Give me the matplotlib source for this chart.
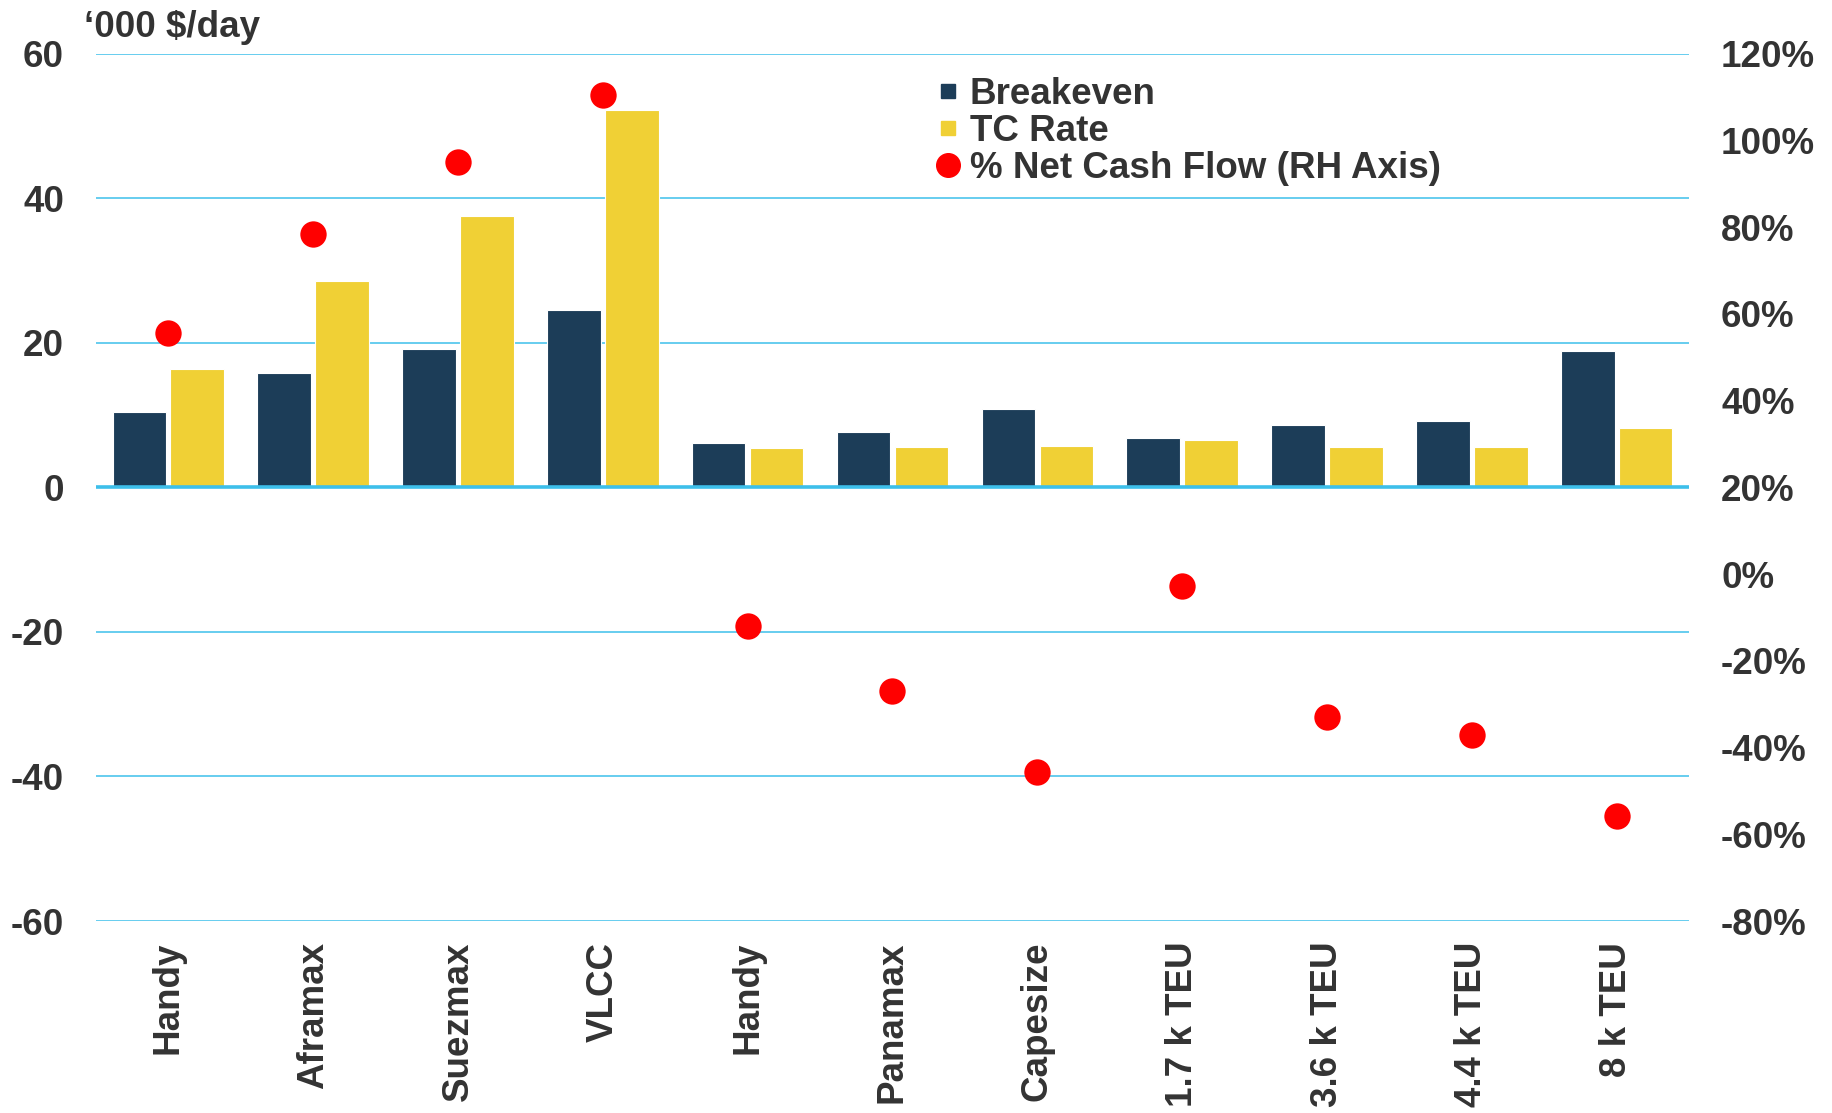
import matplotlib
matplotlib.use("Agg")
import matplotlib.pyplot as plt
from matplotlib.lines import Line2D
from matplotlib.ticker import FuncFormatter
import numpy as np

plt.rcParams['font.family'] = ['Liberation Sans', 'DejaVu Sans']
plt.rcParams['font.weight'] = 'bold'
plt.rcParams['axes.unicode_minus'] = False

TEXT = '#333333'
NAVY = '#1C3D58'
YELLOW = '#F0D035'
RED = '#FF0000'
GRID = '#66CDEF'

categories = ["Handy", "Aframax", "Suezmax", "VLCC", "Handy", "Panamax",
              "Capesize", "1.7 k TEU", "3.6 k TEU", "4.4 k TEU", "8 k TEU"]
breakeven = [10.4, 15.8, 19.1, 24.6, 6.2, 7.7, 10.8, 6.8, 8.6, 9.2, 18.9]
tc_rate = [16.4, 28.5, 37.6, 52.2, 5.4, 5.6, 5.7, 6.5, 5.6, 5.6, 8.2]
net_cash_flow = [55.5, 78.5, 95, 110.5, -12, -27, -45.7, -2.8, -33, -37, -55.8]

left_ticks = [-60, -40, -20, 0, 20, 40, 60]
right_ticks = [-80, -60, -40, -20, 0, 20, 40, 60, 80, 100, 120]

FS = 26.5

fig = plt.figure(figsize=(18.33, 11.13), dpi=100)
ax = fig.add_axes([0.0523, 0.1725, 0.8692, 0.7792])
ax2 = ax.twinx()

x = np.arange(len(categories))
w = 0.37
ax.bar(x - 0.2, breakeven, width=w, color=NAVY, edgecolor='white', linewidth=0.8, zorder=3)
ax.bar(x + 0.2, tc_rate, width=w, color=YELLOW, edgecolor='white', linewidth=0.8, zorder=3)

ax.set_xlim(-0.5, len(categories) - 0.5)
ax.set_ylim(-60, 60)
ax.set_yticks(left_ticks)
ax.yaxis.grid(True, color=GRID, linewidth=1.4, zorder=0)
ax.set_axisbelow(True)
ax.axhline(0, color='#3DBFEA', linewidth=2.6, zorder=4)

ax.set_xticks(x)
ax.set_xticklabels(categories, rotation=90, va='top', ha='center')
ax.tick_params(axis='x', length=0, pad=15, labelsize=FS, labelcolor=TEXT)
ax.tick_params(axis='y', length=0, pad=23, labelsize=FS, labelcolor=TEXT)

ax2.scatter(x, net_cash_flow, s=360, color=RED, zorder=5, linewidths=0)
ax2.set_ylim(-80, 120)
ax2.set_yticks(right_ticks)
ax2.yaxis.set_major_formatter(FuncFormatter(lambda v, p: f"{v:.0f}%"))
ax2.tick_params(axis='y', length=0, pad=23, labelsize=FS, labelcolor=TEXT)

for a in (ax, ax2):
    for s in a.spines.values():
        s.set_visible(False)

fig.text(0.0458, 0.975, "\u2018000 $/day", fontsize=FS, color=TEXT,
         ha='left', va='center', fontweight='bold')

handles = [
    Line2D([], [], linestyle='none', marker='s', markersize=10, color=NAVY),
    Line2D([], [], linestyle='none', marker='s', markersize=10, color=YELLOW),
    Line2D([], [], linestyle='none', marker='o', markersize=17, color=RED),
]
labels = ["Breakeven", "TC Rate", "% Net Cash Flow (RH Axis)"]
leg = fig.legend(handles, labels, loc='upper left', bbox_to_anchor=(0.511, 0.931),
                 frameon=False, fontsize=FS, handlelength=0.6, handletextpad=0.3,
                 labelspacing=0.06, borderpad=0, borderaxespad=0)
for t in leg.get_texts():
    t.set_color(TEXT)

fig.savefig("out.png", dpi=100)
